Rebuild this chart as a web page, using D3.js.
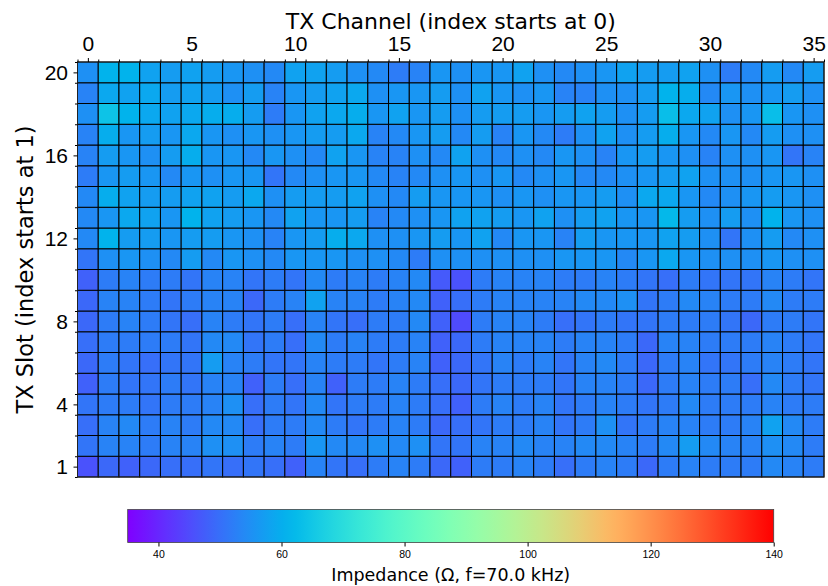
<!DOCTYPE html>
<html>
<head>
<meta charset="utf-8">
<script src="https://cdn.jsdelivr.net/npm/d3@7"></script>
<style>
  body { margin: 0; background: #fff; }
  svg { display: block; font-family: "DejaVu Sans", sans-serif; }
</style>
</head>
<body>
<div id="chart"></div>
<script>
var width = 828;
var height = 586;

// tx channels along the top, slots along the side
var channels = d3.range(0, 36);
var slots = d3.range(1, 21);
var xTicks = [0, 5, 10, 15, 20, 25, 30, 35];
var yTicks = [1, 4, 8, 12, 16, 20];
var cbTicks = [40, 60, 80, 100, 120, 140];
var cbDomain = [35, 140];

// impedance (ohm), one row per slot, slot 1 first
var impedance = [
  [46,49,48,49,50,50,51,50,51,50,48,53,51,50,52,53,52,49,48,52,52,53,52,50,52,53,52,49,52,53,52,52,52,54,53,52],
  [51,53,53,52,53,53,55,55,52,53,52,56,54,54,55,54,55,51,51,53,53,54,53,53,54,54,53,52,54,57,54,53,53,55,54,52],
  [50,53,54,52,53,52,54,54,50,52,52,54,52,51,52,53,52,49,50,51,52,52,53,51,52,55,51,52,53,53,52,52,53,58,54,52],
  [51,52,52,51,52,52,53,55,50,52,51,54,51,52,52,53,52,50,48,52,53,52,53,51,52,53,52,51,52,54,52,52,52,53,52,52],
  [48,52,51,51,52,51,53,53,48,52,50,53,48,52,52,53,52,50,49,51,52,52,52,51,53,53,52,49,52,53,52,52,50,54,52,51],
  [49,52,51,50,51,51,57,53,52,51,51,53,52,52,51,52,53,48,49,51,53,52,53,51,53,54,52,49,52,53,51,51,52,53,52,51],
  [50,52,52,52,52,51,54,54,51,52,50,54,52,53,52,52,53,48,49,52,53,53,53,52,53,53,52,49,53,53,52,52,52,53,52,51],
  [49,52,53,52,51,50,53,52,51,52,50,53,51,50,52,52,54,48,45,52,53,53,52,50,51,52,51,51,52,52,52,51,49,52,52,51],
  [49,53,53,52,51,52,53,53,49,52,53,58,53,53,52,53,54,48,50,52,53,53,53,53,54,54,55,51,52,54,53,52,52,54,52,52],
  [48,52,53,52,52,51,53,53,51,52,51,54,52,53,52,53,54,47,46,52,53,53,53,52,52,53,52,51,50,52,51,51,51,53,52,51],
  [51,55,56,55,54,57,54,56,55,54,56,56,56,55,55,54,52,55,55,55,55,55,55,56,56,56,54,56,59,56,55,55,55,56,55,55],
  [54,61,57,57,56,57,57,56,55,53,56,57,60,59,55,55,56,57,56,58,54,56,56,53,57,56,56,56,58,57,55,51,55,57,54,55],
  [54,56,59,58,56,61,58,57,56,54,58,56,56,57,53,54,55,56,58,58,57,56,58,55,57,58,56,56,62,57,55,57,55,61,56,55],
  [54,60,58,57,57,58,58,57,59,55,57,57,57,58,55,54,57,56,56,56,55,56,55,56,56,57,55,59,59,56,54,55,56,57,56,55],
  [52,56,57,56,54,56,55,56,56,51,54,55,56,56,54,53,54,55,56,55,56,54,55,56,54,54,55,56,57,58,55,55,55,56,56,55],
  [53,57,56,55,57,60,56,56,54,56,55,54,58,56,53,53,55,54,58,55,54,55,54,56,55,53,56,57,56,55,53,55,55,56,51,53],
  [53,60,56,57,56,59,56,55,56,55,56,57,57,59,53,54,56,57,54,57,53,56,54,52,55,58,55,57,60,56,54,56,54,57,55,55],
  [55,64,61,59,58,59,60,60,57,52,56,58,59,60,56,58,56,57,55,57,57,57,56,57,58,57,55,57,63,59,58,55,56,63,56,55],
  [53,59,58,59,57,58,57,55,57,53,56,57,58,59,55,56,56,57,55,58,56,55,56,53,53,55,55,57,61,60,54,56,55,56,57,55],
  [55,61,61,58,57,58,57,56,55,54,58,58,57,55,54,52,53,56,55,56,56,58,55,54,55,56,58,57,57,58,55,52,54,57,54,57]
];

// matplotlib "rainbow" colormap
function rainbow(t) {
  t = Math.max(0, Math.min(1, t));
  var r = Math.abs(2 * t - 0.5);
  var g = Math.sin(Math.PI * t);
  var b = Math.cos(Math.PI * t / 2);
  var c = function(v) { return Math.round(255 * Math.max(0, Math.min(1, v))); };
  return d3.rgb(c(r), c(g), c(b)).toString();
}

var plot = { left: 77.5, right: 824, top: 62, bottom: 477 };
var cb = { left: 127.7, right: 773.7, top: 509.5, bottom: 542.5 };

var xScale = d3.scaleLinear().domain([-0.5, 35.5]).range([plot.left, plot.right]);
var yScale = d3.scaleLinear().domain([0.5, 20.5]).range([plot.bottom, plot.top]);
var color = d3.scaleSequential(rainbow).domain(cbDomain);
var cbScale = d3.scaleLinear().domain(cbDomain).range([cb.left, cb.right]);

var svg = d3.select("#chart")
  .append("svg")
  .attr("width", width)
  .attr("height", height);

// flatten into cells
var cells = [];
impedance.forEach(function(row, i) {
  row.forEach(function(v, j) {
    cells.push({ ch: channels[j], slot: slots[i], value: v });
  });
});

svg.append("g")
  .selectAll("rect")
  .data(cells)
  .enter()
  .append("rect")
  .attr("x", function(d) { return xScale(d.ch - 0.5); })
  .attr("y", function(d) { return yScale(d.slot + 0.5); })
  .attr("width", function(d) { return xScale(d.ch + 0.5) - xScale(d.ch - 0.5); })
  .attr("height", function(d) { return yScale(d.slot - 0.5) - yScale(d.slot + 0.5); })
  .attr("fill", function(d) { return color(d.value); })
  .attr("stroke", "#000")
  .attr("stroke-width", 1);

// frame
svg.append("rect")
  .attr("x", plot.left)
  .attr("y", plot.top)
  .attr("width", plot.right - plot.left)
  .attr("height", plot.bottom - plot.top)
  .attr("fill", "none")
  .attr("stroke", "#222")
  .attr("stroke-width", 1);

// minor ticks at cell edges
var xMinor = d3.axisTop(xScale).tickValues(d3.range(-0.5, 36, 1)).tickSize(2.5).tickFormat("");
var yMinor = d3.axisLeft(yScale).tickValues(d3.range(0.5, 21, 1)).tickSize(2.5).tickFormat("");
svg.append("g").attr("transform", "translate(0," + plot.top + ")").call(xMinor)
  .call(function(g) { g.select(".domain").remove(); });
svg.append("g").attr("transform", "translate(" + plot.left + ",0)").call(yMinor)
  .call(function(g) { g.select(".domain").remove(); });

var xAxis = d3.axisTop(xScale).tickValues(xTicks).tickSize(4).tickPadding(7);
var gx = svg.append("g").attr("transform", "translate(0," + plot.top + ")").call(xAxis);
gx.select(".domain").remove();
gx.selectAll("text").attr("font-size", 21).attr("fill", "#000");

var yAxis = d3.axisLeft(yScale).tickValues(yTicks).tickSize(4).tickPadding(5.5);
var gy = svg.append("g").attr("transform", "translate(" + plot.left + ",0)").call(yAxis);
gy.select(".domain").remove();
gy.selectAll("text").attr("font-size", 21).attr("fill", "#000");

svg.append("text")
  .attr("x", (plot.left + plot.right) / 2)
  .attr("y", 28.5)
  .attr("text-anchor", "middle")
  .attr("font-size", 22)
  .text("TX Channel (index starts at 0)");

svg.append("text")
  .attr("transform", "translate(32.5," + (plot.top + plot.bottom) / 2 + ") rotate(-90)")
  .attr("text-anchor", "middle")
  .attr("font-size", 22.5)
  .text("TX Slot (index starts at 1)");

// colorbar
var grad = svg.append("defs").append("linearGradient").attr("id", "cbgrad");
grad.selectAll("stop")
  .data(d3.range(0, 1.0001, 0.02))
  .enter()
  .append("stop")
  .attr("offset", function(d) { return d; })
  .attr("stop-color", function(d) { return color(cbDomain[0] + d * (cbDomain[1] - cbDomain[0])); });

svg.append("rect")
  .attr("x", cb.left)
  .attr("y", cb.top)
  .attr("width", cb.right - cb.left)
  .attr("height", cb.bottom - cb.top)
  .attr("fill", "url(#cbgrad)")
  .attr("stroke", "#444")
  .attr("stroke-width", 0.8);

var cbAxis = d3.axisBottom(cbScale).tickValues(cbTicks).tickSize(4).tickPadding(4);
var gc = svg.append("g").attr("transform", "translate(0," + cb.bottom + ")").call(cbAxis);
gc.select(".domain").remove();
gc.selectAll("text").attr("font-size", 10.5).attr("fill", "#000");

svg.append("text")
  .attr("x", (cb.left + cb.right) / 2)
  .attr("y", 581)
  .attr("text-anchor", "middle")
  .attr("font-size", 17.5)
  .text("Impedance (Ω, f=70.0 kHz)");
</script>
</body>
</html>
